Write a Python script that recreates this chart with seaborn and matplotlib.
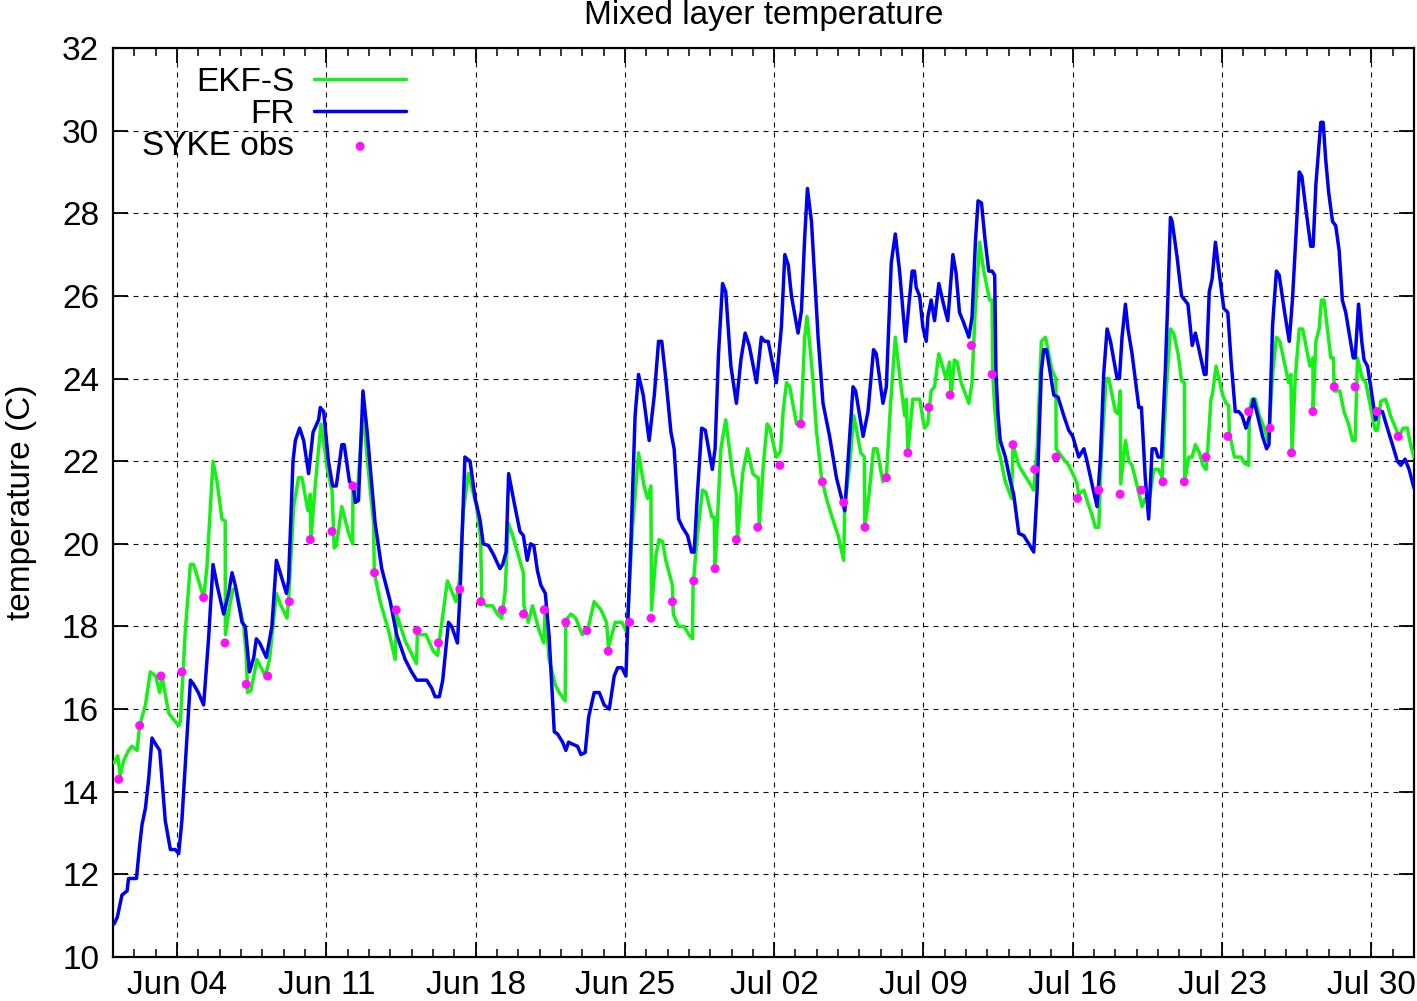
import numpy as np
import pandas as pd
import matplotlib
matplotlib.use("Agg")
import matplotlib.pyplot as plt
import matplotlib.dates as mdates
import seaborn as sns

# ---------------- data (days since 1 June, values in deg C) ----------------
START = "2006-06-01"
N_DAYS = 61

fr_days = [0.05, 0.2, 0.42, 0.66, 0.73, 1.1, 1.25, 1.36, 1.52, 1.67, 1.83, 2.0, 2.19, 2.45, 2.69, 2.92,
           3.08, 3.23, 3.63, 3.78, 4.0, 4.25, 4.48, 4.69, 4.88, 5.19, 5.42, 5.58, 5.73, 6.05, 6.2, 6.4,
           6.6, 6.72, 6.88, 7.19, 7.45, 7.66, 7.84, 8.13, 8.23, 8.44, 8.55, 8.75, 8.94, 9.17, 9.38, 9.64,
           9.72, 9.88, 10.1, 10.3, 10.47, 10.73, 10.84, 11.09, 11.25, 11.36, 11.51, 11.72, 11.9, 12.29,
           12.6, 13.0, 13.3, 13.7, 14.0, 14.24, 14.48, 14.71, 14.95, 15.1, 15.3, 15.46, 15.73, 15.88,
           16.15, 16.27, 16.5, 16.74, 16.98, 17.2, 17.36, 17.6, 17.83, 18.14, 18.27, 18.43, 18.55, 18.77,
           19.08, 19.24, 19.42, 19.58, 19.73, 19.9, 20.06, 20.27, 20.45, 20.69, 20.84, 21.08, 21.23,
           21.36, 21.55, 21.78, 21.94, 22.14, 22.3, 22.56, 22.8, 23.03, 23.27, 23.5, 23.66, 23.86, 24.05,
           24.13, 24.28, 24.48, 24.64, 24.86, 25.14, 25.38, 25.58, 25.73, 25.92, 26.16, 26.31, 26.52,
           26.7, 26.94, 27.13, 27.25, 27.4, 27.6, 27.77, 28.1, 28.23, 28.39, 28.58, 28.73, 28.97, 29.23,
           29.44, 29.64, 29.83, 30.17, 30.4, 30.56, 30.72, 31.1, 31.34, 31.5, 31.66, 31.81, 32.12, 32.28,
           32.43, 32.56, 32.75, 33.06, 33.29, 33.6, 33.92, 34.31, 34.54, 34.7, 34.82, 35.17, 35.4, 35.66,
           35.79, 36.1, 36.26, 36.49, 36.68, 36.88, 37.16, 37.32, 37.47, 37.58, 37.66, 37.82, 37.97,
           38.13, 38.21, 38.36, 38.52, 38.72, 38.94, 39.14, 39.38, 39.53, 39.69, 39.85, 40.13, 40.28,
           40.44, 40.56, 40.72, 40.88, 41.06, 41.22, 41.34, 41.4, 41.5, 41.6, 41.84, 42.08, 42.23, 42.47,
           42.7, 42.94, 43.17, 43.33, 43.53, 43.64, 43.77, 44.11, 44.31, 44.58, 44.81, 45.0, 45.28,
           45.52, 45.67, 45.9, 46.14, 46.3, 46.45, 46.61, 46.77, 47.08, 47.19, 47.31, 47.47, 47.59,
           47.78, 47.94, 48.1, 48.22, 48.4, 48.56, 48.72, 48.88, 49.0, 49.16, 49.34, 49.47, 49.58,
           49.66, 49.89, 50.1, 50.25, 50.4, 50.6, 50.75, 50.9, 51.17, 51.25, 51.4, 51.53, 51.69, 51.88,
           52.08, 52.27, 52.42, 52.62, 52.78, 52.94, 53.12, 53.31, 53.48, 53.67, 53.9, 54.09, 54.2,
           54.37, 54.55, 54.68, 54.92, 55.15, 55.3, 55.46, 55.62, 55.74, 55.93, 56.16, 56.27, 56.4,
           56.52, 56.63, 56.74, 56.86, 57.0, 57.18, 57.33, 57.49, 57.64, 57.8, 57.96, 58.15, 58.24,
           58.4, 58.55, 58.66, 58.82, 58.97, 59.2, 59.29, 59.52, 59.75, 59.99, 60.22, 60.38, 60.58,
           60.77, 61.0]
fr_vals = [10.8, 10.96, 11.5, 11.6, 11.9, 11.9, 12.7, 13.2, 13.6, 14.3, 15.3, 15.15, 15.0, 13.3, 12.6, 12.6,
           12.5, 13.3, 16.7, 16.6, 16.4, 16.1, 17.7, 19.5, 19.0, 18.3, 18.8, 19.3, 19.0, 18.1, 18.0, 16.9,
           17.25, 17.7, 17.6, 17.25, 18.0, 19.6, 19.3, 18.8, 19.1, 22.0, 22.5, 22.8, 22.5, 21.7, 22.7, 23.0,
           23.3, 23.2, 22.0, 21.4, 21.4, 22.4, 22.4, 21.5, 21.45, 21.0, 21.05, 23.7, 22.8, 20.5,
           19.4, 18.6, 17.8, 17.2, 16.9, 16.7, 16.7, 16.7, 16.5, 16.3, 16.3, 16.7, 18.1, 18.0,
           17.6, 18.8, 22.1, 22.0, 21.1, 20.6, 20.0, 19.96, 19.75, 19.4, 19.5, 19.8, 21.7, 21.1,
           20.3, 20.2, 19.6, 20.0, 19.96, 19.35, 19.0, 18.8, 17.75, 15.45, 15.4, 15.2, 15.0,
           15.2, 15.15, 15.1, 14.9, 14.95, 15.8, 16.4, 16.4, 16.1, 16.0, 16.8, 17.0, 17.0, 16.8,
           18.0, 20.0, 23.1, 24.1, 23.6, 22.5, 23.6, 24.9, 24.9, 24.0, 22.7, 22.3, 20.6,
           20.4, 20.2, 19.8, 19.8, 21.2, 22.8, 22.75, 21.8, 22.3, 24.6, 26.3, 26.1, 24.3, 23.4,
           24.45, 25.1, 24.8, 23.9, 25.0, 24.9, 24.9, 23.9, 25.25, 27.0, 26.75, 26.0, 25.1, 25.65,
           27.4, 28.6, 27.8, 25.0, 23.4, 22.6, 21.6, 20.8, 22.6, 23.8, 23.7, 22.6, 23.2, 24.7,
           24.6, 23.4, 23.8, 26.8, 27.5, 26.6, 24.9, 25.8, 26.6, 26.6, 26.2, 26.0, 25.25,
           24.9, 25.5, 25.9, 25.4, 26.3, 25.8, 25.4, 27.0, 26.55, 25.6, 25.4, 25.0, 25.5,
           27.35, 28.3, 28.25, 27.4, 26.6, 26.6, 26.5, 24.1, 23.1, 22.5, 22.1, 21.5, 21.2, 20.25,
           20.2, 20.0, 19.8, 21.3, 24.2, 24.7, 24.7, 23.6, 23.55, 23.1, 22.75, 22.6, 22.1,
           22.3, 22.0, 21.45, 20.9, 22.1, 24.1, 25.2, 24.9, 24.0, 24.0, 25.0, 25.8, 25.2,
           24.6, 23.95, 23.3, 23.3, 21.6, 20.6, 22.3, 22.3, 22.1, 22.1, 24.2, 26.1, 27.9,
           27.8, 26.95, 26.0, 25.9, 25.8, 24.8, 25.1, 24.75, 24.1, 24.1, 26.1, 26.4, 27.3, 26.5,
           25.7, 25.6, 24.45, 23.2, 23.2, 23.1, 22.8, 23.1, 23.5, 23.1, 22.6, 22.3, 22.4,
           25.3, 26.6, 26.5, 25.65, 24.9, 25.9, 27.4, 29.0, 28.9, 28.1, 27.2, 27.2, 28.7,
           29.5, 30.2, 30.2, 29.3, 28.5, 27.8, 27.7, 27.1, 25.9, 25.6, 25.1, 24.5, 24.5,
           25.8, 24.9, 24.45, 24.3, 23.8, 23.0, 23.2, 23.2, 22.8, 22.4, 22.0, 21.9, 22.05,
           21.8, 21.35]

ekf_days = [0.05, 0.22, 0.34, 0.5, 0.73, 0.89, 1.13, 1.25, 1.52, 1.75, 2.0, 2.19, 2.3, 2.61, 2.84, 3.08,
            3.16, 3.39, 3.63, 3.78, 4.25, 4.4, 4.69, 4.88, 5.11, 5.26, 5.27, 5.47, 5.63, 5.78, 6.13, 6.25,
            6.31, 6.47, 6.75, 7.14, 7.34, 7.66, 7.88, 8.16, 8.23, 8.47, 8.7, 8.86, 9.14, 9.25, 9.28, 9.48,
            9.75, 9.95, 10.03, 10.27, 10.37, 10.47, 10.73, 11.05, 11.24, 11.25, 11.44, 11.72, 12.06,
            12.22, 12.25, 12.53, 12.92, 13.23, 13.3, 13.7, 14.23, 14.27, 14.68, 15.02, 15.22, 15.34,
            15.68, 15.88, 16.08, 16.24, 16.43, 16.66, 17.05, 17.24, 17.29, 17.52, 17.8, 18.02, 18.22,
            18.38, 18.53, 18.74, 19.24, 19.27, 19.47, 19.67, 19.98, 20.2, 20.27, 20.45, 20.73, 20.92,
            21.2, 21.23, 21.47, 21.7, 22.0, 22.25, 22.56, 22.88, 23.14, 23.23, 23.55, 23.86, 24.05,
            24.13, 24.36, 24.64, 24.9, 25.06, 25.22, 25.25, 25.45, 25.6, 25.77, 25.92, 26.23, 26.27,
            26.52, 26.78, 27.0, 27.17, 27.2, 27.4, 27.64, 27.8, 28.08, 28.19, 28.23, 28.5, 28.73,
            29.05, 29.23, 29.28, 29.52, 29.75, 30.0, 30.1, 30.25, 30.3, 30.49, 30.67, 30.8, 31.1,
            31.3, 31.42, 31.58, 31.73, 32.05, 32.25, 32.33, 32.43, 32.54, 32.67, 32.83, 32.98, 33.22,
            33.45, 33.68, 34.0, 34.26, 34.31, 34.54, 34.73, 34.85, 35.06, 35.23, 35.25, 35.45, 35.66,
            35.82, 36.1, 36.26, 36.46, 36.68, 36.88, 37.12, 37.2, 37.27, 37.5, 37.82, 38.05, 38.2,
            38.36, 38.52, 38.72, 39.06, 39.22, 39.3, 39.45, 39.58, 39.77, 40.13, 40.28, 40.41, 40.63,
            40.83, 41.1, 41.22, 41.25, 41.34, 41.5, 41.6, 41.84, 42.13, 42.2, 42.47, 42.7, 42.94,
            43.17, 43.33, 43.53, 43.72, 44.03, 44.21, 44.22, 44.5, 44.81, 45.09, 45.2, 45.28, 45.52,
            45.67, 45.9, 46.06, 46.22, 46.34, 46.56, 46.69, 47.0, 47.13, 47.23, 47.25, 47.47, 47.63,
            47.78, 48.02, 48.25, 48.4, 48.6, 48.8, 49.03, 49.19, 49.38, 49.58, 49.73, 49.94, 50.1,
            50.24, 50.25, 50.44, 50.6, 50.75, 50.94, 51.1, 51.25, 51.33, 51.48, 51.56, 51.72, 51.88,
            52.03, 52.19, 52.31, 52.34, 52.58, 52.73, 52.89, 53.05, 53.25, 53.28, 53.4, 53.56, 53.75,
            53.98, 54.14, 54.2, 54.37, 54.55, 54.71, 54.92, 55.12, 55.23, 55.28, 55.43, 55.62, 55.78,
            55.93, 56.12, 56.26, 56.27, 56.4, 56.55, 56.66, 56.78, 56.94, 57.1, 57.22, 57.26, 57.52,
            57.72, 57.93, 58.12, 58.24, 58.35, 58.58, 58.74, 58.97, 59.18, 59.29, 59.44, 59.67, 59.9,
            60.14, 60.3, 60.49, 60.69, 60.84, 61.0]
ekf_vals = [14.7, 14.87, 14.4, 14.75, 15.0, 15.1, 15.0, 15.6, 16.1, 16.9, 16.8, 16.4, 16.8, 15.9, 15.75, 15.6,
            15.7, 17.9, 19.5, 19.5, 18.7, 19.4, 22.0, 21.5, 20.6, 20.55, 17.8, 18.5, 18.9, 18.9, 18.0, 17.3,
            16.4, 16.45, 17.2, 16.8, 17.2, 18.8, 18.5, 18.2, 18.6, 20.9, 21.6, 21.6, 20.8, 21.2, 20.1, 21.4,
            22.9, 22.2, 21.85, 21.3, 19.9, 19.95, 20.9, 20.25, 20.0, 21.4, 21.05, 23.2, 21.3,
            20.5, 19.3, 18.6, 17.9, 17.2, 18.3, 17.65, 17.1, 17.8, 17.8, 17.4, 17.3, 17.8,
            19.1, 18.85, 18.6, 19.1, 20.8, 21.7, 20.9, 20.1, 18.6, 18.5, 18.5, 18.3, 18.2,
            18.8, 20.5, 20.2, 19.3, 18.5, 18.1, 18.5, 17.9, 17.6, 18.5, 17.2, 16.6, 16.4,
            16.2, 18.15, 18.3, 18.2, 17.8, 17.9, 18.6, 18.4, 18.1, 17.5, 18.1, 18.1, 17.9,
            18.2, 20.4, 22.2, 21.4, 21.1, 21.4, 18.4, 19.7, 20.1, 20.05, 19.6, 19.0, 18.3,
            18.0, 18.0, 17.8, 17.7, 19.0, 20.2, 21.3, 21.25, 20.65, 20.65, 19.4, 22.3, 23.0,
            21.7, 21.2, 20.1, 21.7, 22.3, 21.7, 21.65, 21.6, 20.4, 21.9, 22.9, 22.8, 22.1,
            22.25, 23.2, 23.9, 23.8, 22.9, 22.9, 23.8, 25.0, 25.5, 24.8, 23.9, 22.75, 21.6,
            21.1, 20.7, 20.2, 19.6, 20.9, 21.9, 23.1, 22.8, 22.2, 22.1, 20.4, 21.2, 22.3,
            22.3, 21.5, 21.6, 23.4, 25.0, 24.1, 23.1, 23.5, 22.2, 23.5, 23.5, 22.8, 22.9,
            23.7, 23.8, 24.6, 24.0, 24.4, 23.6, 24.45, 24.4, 23.9, 23.4, 23.9, 25.5, 27.3,
            26.6, 25.9, 25.9, 24.1, 23.3, 22.3, 22.1, 21.5, 21.1, 22.4, 21.9, 21.7, 21.5,
            21.3, 22.3, 24.9, 25.0, 24.2, 24.0, 22.3, 22.1, 21.9, 21.6, 21.45, 21.2, 21.3,
            21.05, 20.7, 20.4, 20.4, 22.1, 24.0, 24.0, 23.2, 23.15, 23.7, 21.45, 22.5, 22.0,
            21.9, 21.4, 20.9, 21.1, 21.1, 21.8, 21.8, 21.6, 23.7, 25.2, 25.1, 24.6, 23.95,
            23.9, 21.5, 22.1, 22.1, 22.4, 22.2, 21.9, 21.8, 22.3, 23.5, 23.65, 24.3, 23.95,
            23.6, 23.4, 23.35, 22.7, 22.1, 22.1, 22.1, 21.95, 21.9, 23.2, 23.5, 23.5, 23.1,
            22.8, 22.5, 22.7, 24.1, 25.0, 24.9, 24.4, 23.9, 24.1, 22.2, 24.0, 25.2, 25.2,
            24.8, 24.3, 24.5, 23.2, 24.9, 25.2, 25.9, 25.9, 25.2, 24.5, 24.5, 23.7, 23.7,
            23.2, 22.9, 22.5, 22.5, 24.5, 24.0, 23.9, 23.3, 22.75, 22.75, 23.45, 23.5, 23.1,
            22.8, 22.6, 22.8, 22.8, 22.4, 22.1]

obs_days = [0.27, 1.25, 2.25, 3.23, 4.25, 5.25, 6.25, 7.25, 8.27, 9.25, 10.27, 11.25, 12.26, 13.28, 14.26,
            15.26, 16.26, 17.25, 18.25, 19.25, 20.22, 21.23, 22.22, 23.22, 24.22, 25.23, 26.23, 27.23,
            28.23, 29.23, 30.23, 31.27, 32.25, 33.26, 34.26, 35.26, 36.26, 37.27, 38.25, 39.25, 40.25,
            41.22, 42.2, 43.22, 44.22, 45.22, 46.22, 47.22, 48.22, 49.23, 50.23, 51.25, 52.27, 53.25,
            54.25, 55.26, 56.26, 57.26, 58.24, 59.26, 60.26]
obs_vals = [14.3, 15.6, 16.8, 16.9, 18.7, 17.6, 16.6, 16.8, 18.6, 20.1, 20.3, 21.4, 19.3, 18.4, 17.9,
            17.6, 18.9, 18.6, 18.4, 18.3, 18.4, 18.1, 17.9, 17.4, 18.1, 18.2, 18.6, 19.1,
            19.4, 20.1, 20.4, 21.9, 22.9, 21.5, 21.0, 20.4, 21.6, 22.2, 23.3, 23.6, 24.8,
            24.1, 22.4, 21.8, 22.1, 21.1, 21.3, 21.2, 21.3, 21.5, 21.5, 22.1, 22.6, 23.2,
            22.8, 22.2, 23.2, 23.8, 23.8, 23.2, 22.6]

series_labels = ["EKF-S", "FR", "SYKE obs"]
title = "Mixed layer temperature"
ylabel = "temperature (C)"

# ---------------- plotting ----------------
sns.set_theme(style="ticks")
plt.rcParams["font.family"] = ["Liberation Sans", "DejaVu Sans"]
plt.rcParams.update({"text.color": "black", "axes.labelcolor": "black",
                     "xtick.color": "black", "ytick.color": "black",
                     "axes.edgecolor": "black"})
FS = 24

t0 = pd.Timestamp(START)


def to_time(days):
    return t0 + pd.to_timedelta(np.asarray(days, dtype=float), unit="D")


fig = plt.figure(figsize=(14.17, 10.01), dpi=100)
W, H = 1417, 1001
ax = fig.add_axes([113 / W, 1 - 957 / H, (1414 - 113) / W, (957 - 48) / H])

sns.lineplot(x=to_time(ekf_days), y=ekf_vals, ax=ax, color="#16f016", linewidth=2.5,
             estimator=None, sort=False, label=series_labels[0], zorder=3)
sns.lineplot(x=to_time(fr_days), y=fr_vals, ax=ax, color="#0000f0", linewidth=2.5,
             estimator=None, sort=False, label=series_labels[1], zorder=4)
sns.scatterplot(x=to_time(obs_days), y=obs_vals, ax=ax, color="#ff10ff", s=42,
                edgecolor="none", label=series_labels[2], zorder=5)

ax.set_xlim(t0, t0 + pd.Timedelta(days=N_DAYS))
ax.set_ylim(10, 32)
ax.set_yticks(np.arange(10, 33, 2))
ax.xaxis.set_major_locator(mdates.WeekdayLocator(byweekday=mdates.SU))
ax.xaxis.set_minor_locator(mdates.DayLocator())
ax.xaxis.set_major_formatter(mdates.DateFormatter("%b %d"))

ax.grid(True, which="major", color="#111111", linestyle=(0, (4.5, 4.5)), linewidth=0.8, zorder=1)
ax.set_axisbelow(True)

for sp in ax.spines.values():
    sp.set_visible(True)
    sp.set_linewidth(1.6)
    sp.set_color("black")

ax.tick_params(axis="both", which="both", direction="in", top=True, right=True,
               colors="black", labelcolor="black", labelsize=FS)
ax.tick_params(axis="both", which="major", length=11, width=1.3)
ax.tick_params(axis="x", which="minor", length=5.5, width=1.1)
ax.tick_params(axis="x", which="major", pad=9.5)
ax.tick_params(axis="y", which="major", pad=10)

ax.set_xlabel("")
ax.set_ylabel(ylabel, fontsize=FS, color="black")
ax.yaxis.set_label_coords(-0.0585, 0.5)
ax.set_title(title, fontsize=FS, pad=17.3, color="black")

leg = ax.legend(loc="upper right", bbox_to_anchor=(0.2252, 0.979), frameon=False,
                markerfirst=False, handlelength=2.75, handletextpad=0.6, labelspacing=0.03,
                borderpad=0, borderaxespad=0, fontsize=FS, scatterpoints=1)
for txt in leg.get_texts():
    txt.set_color("black")

fig.savefig("out.png", dpi=100)
